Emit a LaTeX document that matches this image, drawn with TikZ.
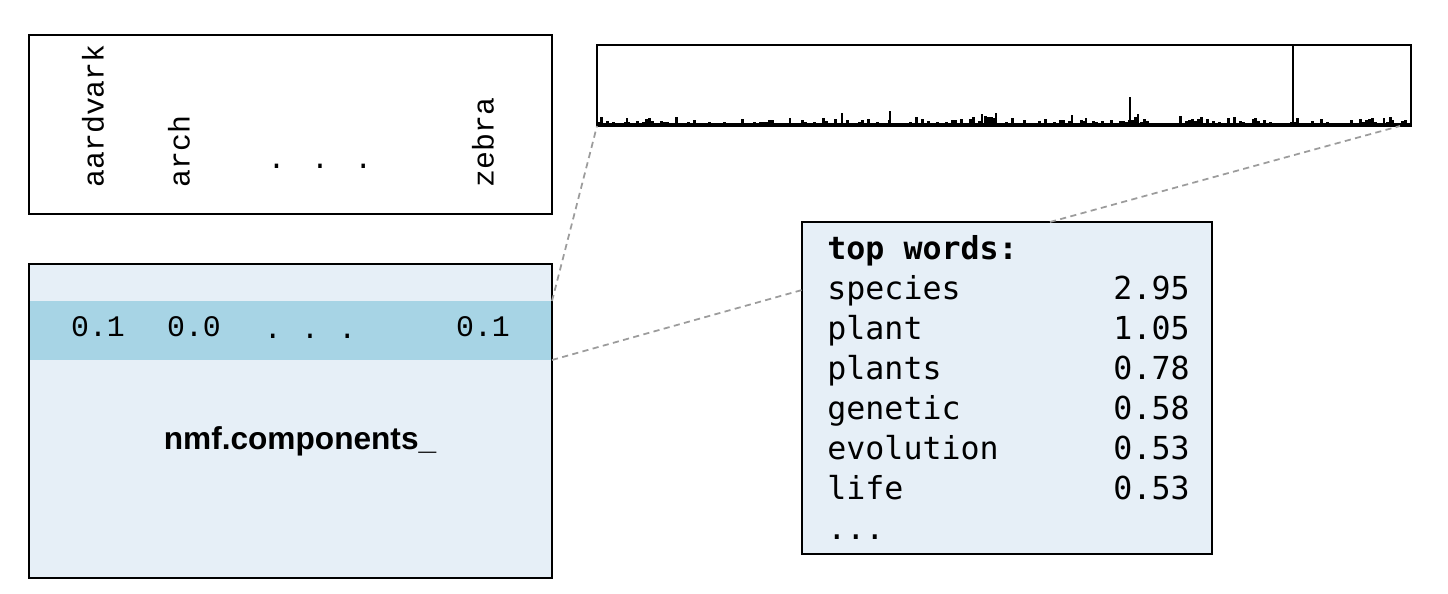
\documentclass[tikz,border=0pt]{standalone}
\usepackage{fontspec}
\setmainfont{Liberation Sans}
\setmonofont{Liberation Mono}
\newfontfamily\wordfont{DejaVu Sans Mono}
\usetikzlibrary{calc}
\definecolor{band}{HTML}{A7D4E5}
\definecolor{pale}{HTML}{E6EFF7}
\definecolor{dash}{HTML}{9C9C9C}
\tikzset{>=stealth}

\begin{document}
\begin{tikzpicture}[x=0.02cm,y=-0.02cm,
  box/.style={draw,line width=.7pt},
  zoomline/.style={draw=dash,line width=1pt,dash pattern=on 3.5pt off 2.5pt},
  vocab/.style={font=\ttfamily\fontsize{17}{18}\selectfont,rotate=90,anchor=mid west,inner sep=0pt},
  val/.style={font=\ttfamily\fontsize{17}{18}\selectfont,anchor=mid,inner sep=0pt},
  word/.style={font=\wordfont\fontsize{18}{20}\selectfont,anchor=mid west,inner sep=0pt},
  score/.style={font=\wordfont\fontsize{18}{20}\selectfont,anchor=mid east,inner sep=0pt}]
\useasboundingbox (0,0) rectangle (1448,594);
% vocabulary
\draw[box] (29,35) rectangle (552,214);
\node[vocab] (aardvark) at (99,188) {aardvark};
\node[vocab] (arch) at (185,188) {arch};
\node[font=\ttfamily\fontsize{17}{18}\selectfont,inner sep=0pt] (vdots) at (320,166) {.\hspace{14.5pt}.\hspace{14.5pt}.};
\node[vocab] (zebra) at (489,188) {zebra};
% components
\fill[pale] (29,264) rectangle (552,578);
\fill[band] (29,301) coordinate (bandtl) rectangle (552,360);
\coordinate (bandtr) at (552,301);
\coordinate (bandbr) at (552,360);
\draw[box] (29,264) rectangle (552,578);
\node[val] (v1) at (98,332) {0.1};
\node[val] (v2) at (194,332) {0.0};
\node[val] (vd) at (310,334) {.\hspace{11pt}.\hspace{11pt}.};
\node[val] (vn) at (483,332) {0.1};
\node[font=\bfseries\fontsize{18}{20}\selectfont] (comp) at (300,441) {nmf.components\_};
% histogram
\pgfmathsetseed{11}
\foreach \i in {0,...,269} {
  \pgfmathsetmacro\h{2+8*rnd^3}
  \fill (597+3*\i,126) rectangle +(2.6,-\h);
}
\foreach \px/\h in {627/8,790/8,842/13,890/15,982/12,996/13,1072/11,1086/8,
  1130/29,1138/12,1253/7,1384/8,1393/6}
  \fill (\px-1.2,126) rectangle +(2.6,-\h);
\fill (597,123.5) rectangle (1411,126);
\draw[line width=1pt] (1293,45) -- (1293,126);
\draw[box] (597,45) rectangle (1411,126);
\coordinate (histbl) at (597,126);
\coordinate (histbr) at (1400,126);
% top words
\draw[box,fill=pale] (802,222) rectangle (1212,554);
\coordinate (topl) at (802,290);
\coordinate (topt) at (1050,222);
\node[word,font=\wordfont\bfseries\fontsize{18}{20}\selectfont] (head) at (827,255) {top words:};
\foreach \w/\s [count=\k] in {species/2.95,plant/1.05,plants/0.78,genetic/0.58,evolution/0.53,life/0.53} {
  \node[word] (w\k) at (827,255+40*\k) {\w};
  \node[score] (s\k) at (1190,255+40*\k) {\s};
}
\node[word] (more) at (827,535) {...};
% zoom lines
\draw[zoomline] (bandtr) -- (histbl);
\draw[zoomline] (bandbr) -- (topl);
\draw[zoomline] (topt) -- (histbr);
\end{tikzpicture}
\end{document}
